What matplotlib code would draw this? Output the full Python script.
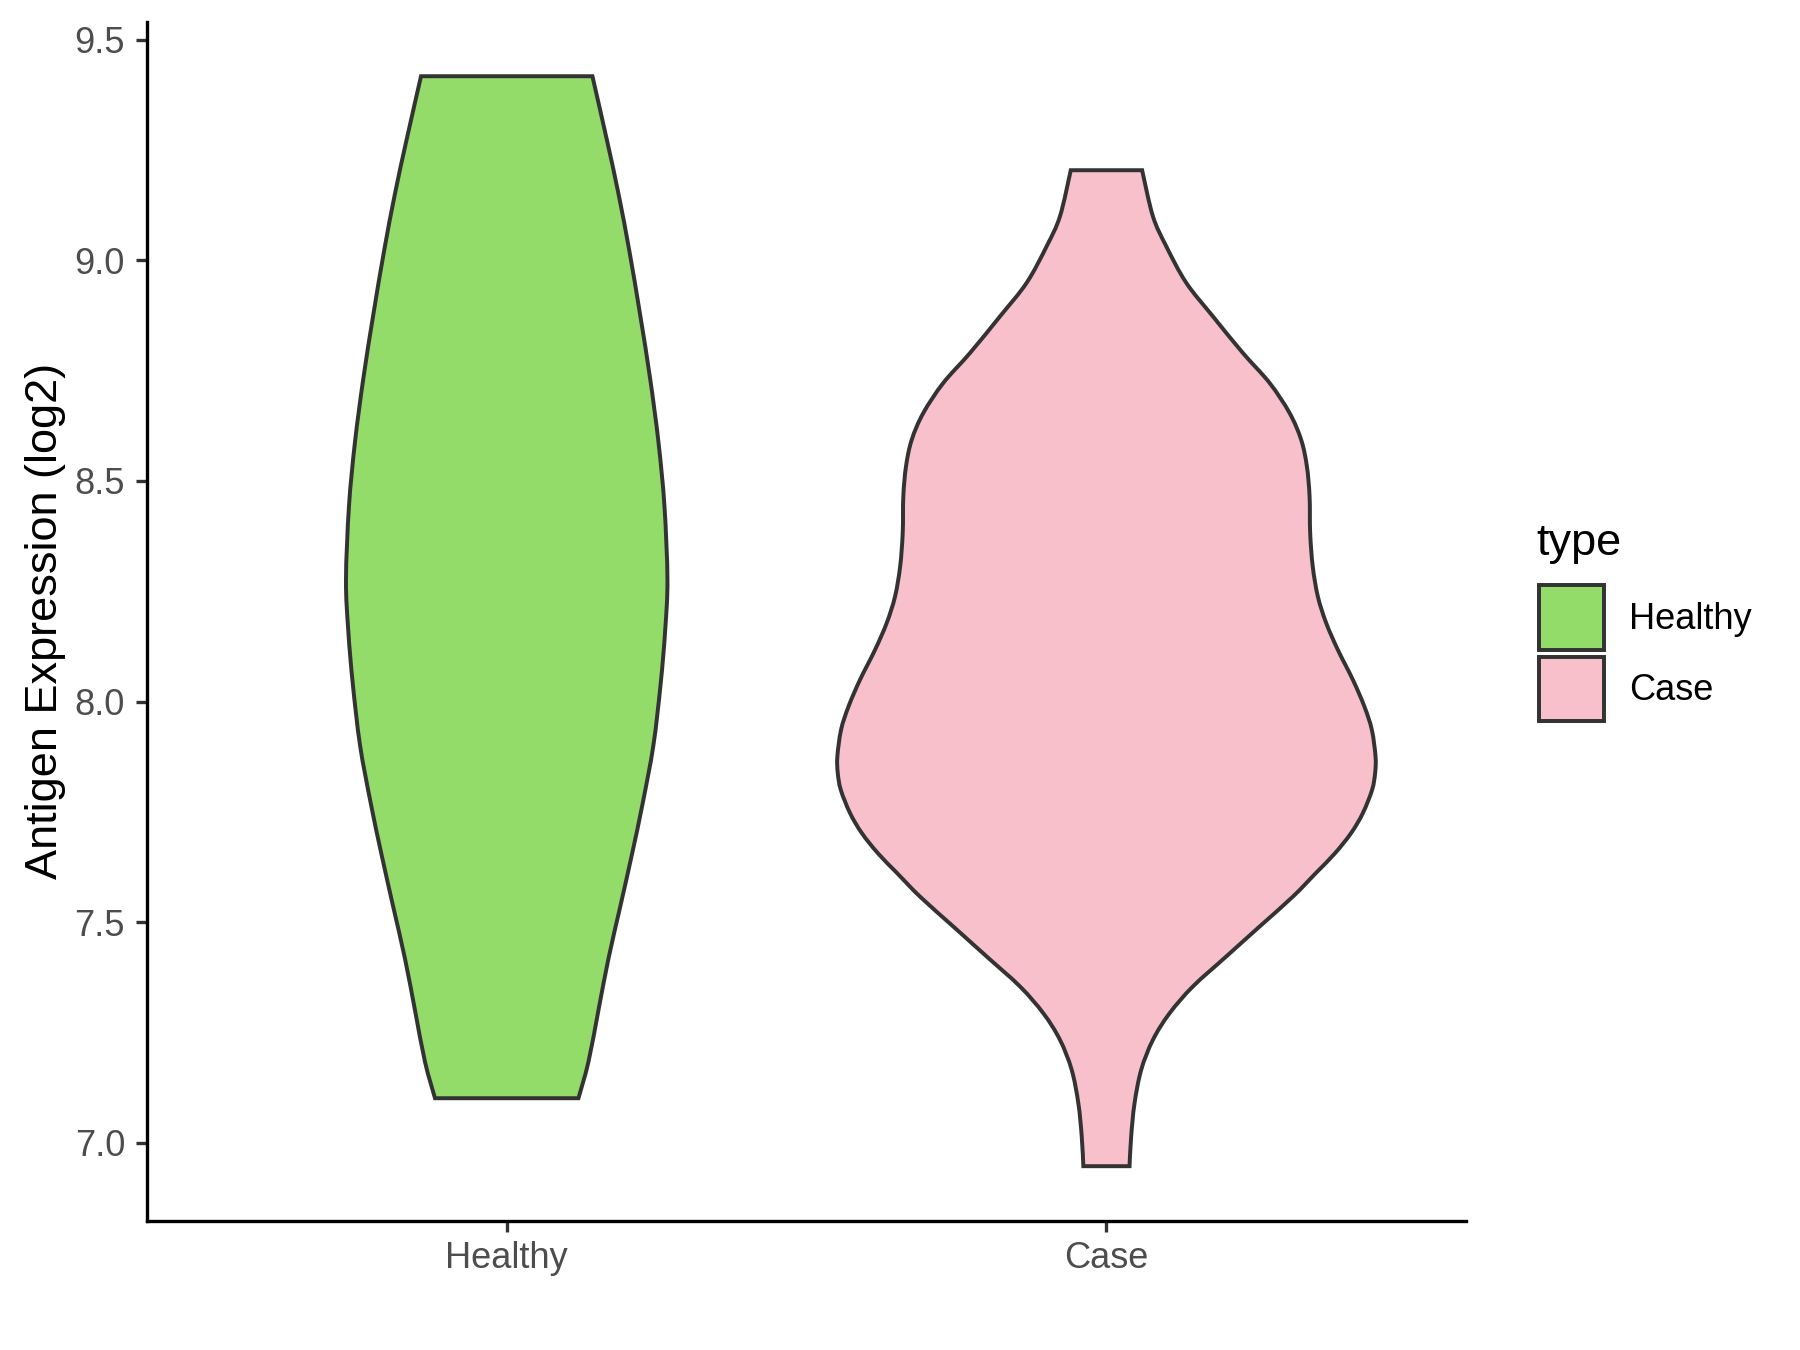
import numpy as np
import matplotlib
matplotlib.use("Agg")
import matplotlib.pyplot as plt
from matplotlib.path import Path
from matplotlib.patches import PathPatch, Patch

plt.rcParams["font.family"] = ["Liberation Sans", "DejaVu Sans"]

# violin outlines: value (log2) and half-width (x units)
groups = ["Healthy", "Case"]
colors = ["#94DC6A", "#F7C0CB"]

healthy_y = [7.101, 7.183, 7.300, 7.417, 7.534, 7.651, 7.768, 7.901, 8.042, 8.159,
             8.276, 8.443, 8.588, 8.732, 8.877, 9.021, 9.151, 9.274, 9.417]
healthy_hw = [0.1196, 0.1362, 0.1529, 0.1696, 0.1891, 0.2084, 0.2265, 0.2446, 0.2568, 0.2641,
              0.2680, 0.2630, 0.2530, 0.2391, 0.2224, 0.2045, 0.1863, 0.1668, 0.1429]

case_y = [6.947, 7.014, 7.089, 7.165, 7.233, 7.293, 7.354, 7.422, 7.490, 7.558, 7.611,
          7.656, 7.702, 7.747, 7.800, 7.838, 7.875, 7.936, 7.989, 8.049, 8.117, 8.178,
          8.238, 8.306, 8.382, 8.465, 8.533, 8.593, 8.654, 8.722, 8.790, 8.873, 8.949,
          9.032, 9.100, 9.204]
case_hw = [0.0385, 0.0412, 0.0468, 0.0579, 0.0774, 0.1050, 0.1440, 0.1996, 0.2553, 0.3110, 0.3490,
           0.3810, 0.4080, 0.4275, 0.4430, 0.4480, 0.4487, 0.4425, 0.4300, 0.4110, 0.3859, 0.3664,
           0.3525, 0.3440, 0.3397, 0.3387, 0.3342, 0.3247, 0.3053, 0.2720, 0.2274, 0.1774, 0.1330,
           0.0996, 0.0774, 0.0595]

y_ticks = [7.0, 7.5, 8.0, 8.5, 9.0, 9.5]


def smooth_side(pts):
    # catmull-rom through the points, as cubic bezier segments
    verts, codes = [], []
    n = len(pts)
    for i in range(n - 1):
        p0 = pts[max(i - 1, 0)]
        p1 = pts[i]
        p2 = pts[i + 1]
        p3 = pts[min(i + 2, n - 1)]
        c1 = p1 + (p2 - p0) / 6
        c2 = p2 - (p3 - p1) / 6
        verts += [c1, c2, p2]
        codes += [Path.CURVE4] * 3
    return verts, codes


def violin_patch(pos, ys, hws, color):
    ys = np.asarray(ys)
    hws = np.asarray(hws)
    left = np.column_stack([pos - hws, ys])
    right = np.column_stack([pos + hws, ys])[::-1]
    verts = [left[0]]
    codes = [Path.MOVETO]
    v, c = smooth_side(left)
    verts += v
    codes += c
    verts.append(right[0])
    codes.append(Path.LINETO)
    v, c = smooth_side(right)
    verts += v
    codes += c
    verts.append(left[0])
    codes.append(Path.CLOSEPOLY)
    return PathPatch(Path(verts, codes), facecolor=color, edgecolor="#333333",
                     linewidth=1.9, joinstyle="miter")


fig = plt.figure(figsize=(12, 9), dpi=150)
ax = fig.add_axes([0.0816, 0.0958, 0.7330, 0.8881])

data = [(healthy_y, healthy_hw), (case_y, case_hw)]
for i, (ys, hws) in enumerate(data):
    ax.add_patch(violin_patch(i + 1, ys, hws, colors[i]))

lo = min(min(healthy_y), min(case_y))
hi = max(max(healthy_y), max(case_y))
pad = 0.05 * (hi - lo)
ax.set_ylim(lo - pad, hi + pad)
ax.set_xlim(0.4, 2.6)

ax.set_xticks([1, 2])
ax.set_xticklabels(groups)
ax.set_yticks(y_ticks)
ax.set_yticklabels([f"{t:.1f}" for t in y_ticks])
ax.tick_params(axis="both", colors="#333333", width=1.6, length=5.5, pad=5,
               labelsize=17.4, labelcolor="#4D4D4D")
ax.tick_params(axis="x", pad=4.3)

for s in ["top", "right"]:
    ax.spines[s].set_visible(False)
for s in ["left", "bottom"]:
    ax.spines[s].set_linewidth(1.6)
    ax.spines[s].set_color("black")

ax.set_ylabel("Antigen Expression (log2)", fontsize=21.7, color="black", labelpad=4)

handles = [Patch(facecolor=colors[i], edgecolor="#333333", linewidth=1.9) for i in range(2)]
fig.legend(handles, groups, loc="upper left", bbox_to_anchor=(0.8548, 0.5664),
           frameon=False, borderpad=0, borderaxespad=0, handlelength=1.80,
           handleheight=2.357, labelspacing=0.2, handletextpad=0.69, fontsize=17.4)
fig.text(0.8533, 0.5889, "type", fontsize=21.7, color="black", va="baseline", ha="left")

plt.savefig("out.png", dpi=150, facecolor="white")
